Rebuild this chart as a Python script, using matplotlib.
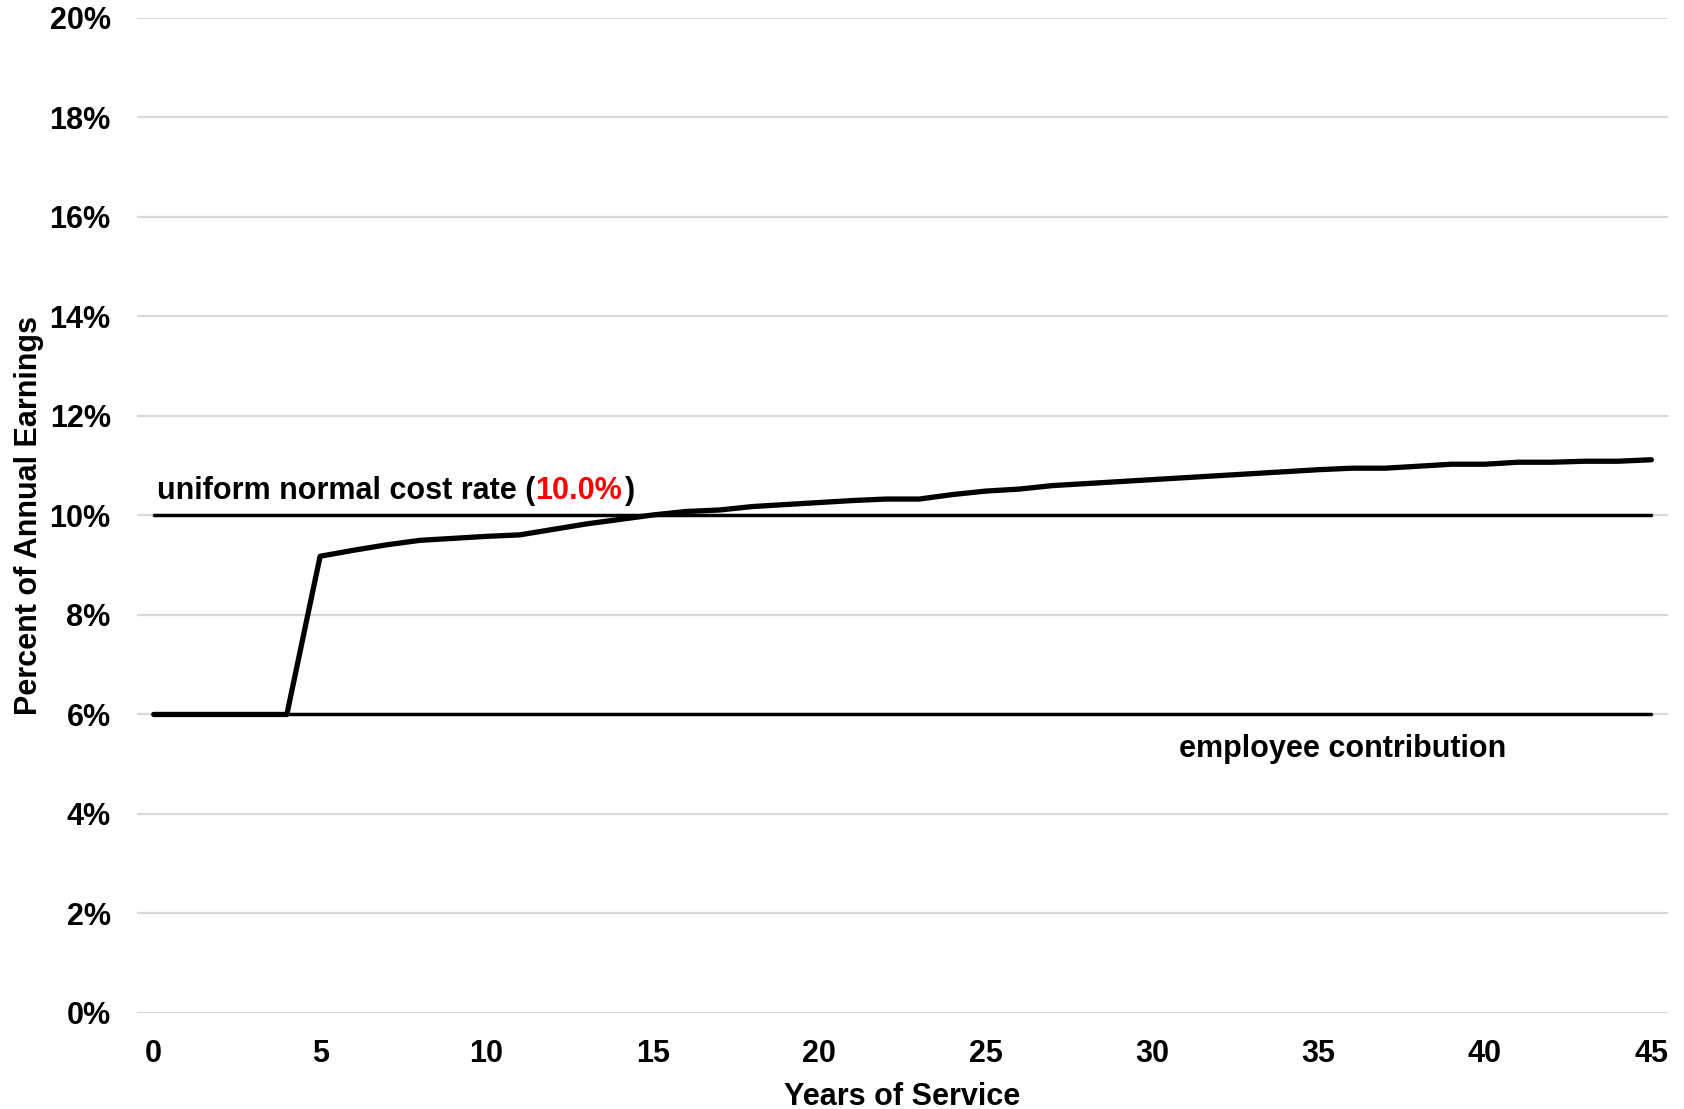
import numpy as np
import matplotlib.pyplot as plt
from matplotlib.ticker import FuncFormatter

# normal cost as percent of annual earnings, by years of service
years = list(range(0, 46))
normal_cost = [6.0, 6.0, 6.0, 6.0, 6.0, 9.18, 9.30, 9.41, 9.50, 9.54,
               9.58, 9.61, 9.72, 9.83, 9.92, 10.01, 10.08, 10.11, 10.18, 10.22,
               10.26, 10.30, 10.33, 10.33, 10.42, 10.49, 10.53, 10.60, 10.64, 10.68,
               10.72, 10.76, 10.80, 10.84, 10.88, 10.92, 10.95, 10.95, 10.99, 11.03,
               11.03, 11.07, 11.07, 11.09, 11.09, 11.12]
uniform_rate = 10.0
employee_rate = 6.0

plt.rcParams['font.family'] = ['Liberation Sans', 'DejaVu Sans']
plt.rcParams['font.weight'] = 'bold'
fs = 22

fig = plt.figure(figsize=(16.84, 11.09), dpi=100)
ax = fig.add_axes([0.0814, 0.0866, 0.9091, 0.8972])

ax.plot([0, 45], [uniform_rate, uniform_rate], color='black', lw=2.5, solid_capstyle='round')
ax.plot([0, 45], [employee_rate, employee_rate], color='black', lw=2.5, solid_capstyle='round')
ax.plot(years, normal_cost, color='black', lw=3.8, solid_capstyle='round', solid_joinstyle='round')

ax.set_xlim(-0.5, 45.5)
ax.set_ylim(0, 20)
ax.set_xticks(range(0, 46, 5))
ax.set_yticks(range(0, 21, 2))
ax.yaxis.set_major_formatter(FuncFormatter(lambda v, p: '%d%%' % v))
ax.grid(axis='y', color='#d9d9d9', lw=1.6)
ax.set_axisbelow(True)
for s in ax.spines.values():
    s.set_visible(False)
ax.tick_params(length=0, labelsize=fs)
ax.tick_params(axis='y', pad=19)
ax.tick_params(axis='x', pad=19)

ax.set_xlabel('Years of Service', fontsize=fs, fontweight='bold', labelpad=9)
ax.set_ylabel('Percent of Annual Earnings', fontsize=fs, fontweight='bold', labelpad=4)

t1 = ax.text(0.1, 10.5, 'uniform normal cost rate (', fontsize=fs, fontweight='bold',
             va='center', ha='left')
t2 = ax.annotate('%.1f%%' % uniform_rate, xy=(1, 0), xycoords=t1, fontsize=fs,
                 fontweight='bold', color='#ff0000', va='bottom', ha='left')
ax.annotate(')', xy=(1, 0), xycoords=t2, xytext=(2, 0), textcoords='offset points',
            fontsize=fs, fontweight='bold', va='bottom', ha='left')

ax.text(30.8, 5.31, 'employee contribution', fontsize=fs, fontweight='bold',
        va='center', ha='left')

fig.savefig('out.png', dpi=100)
